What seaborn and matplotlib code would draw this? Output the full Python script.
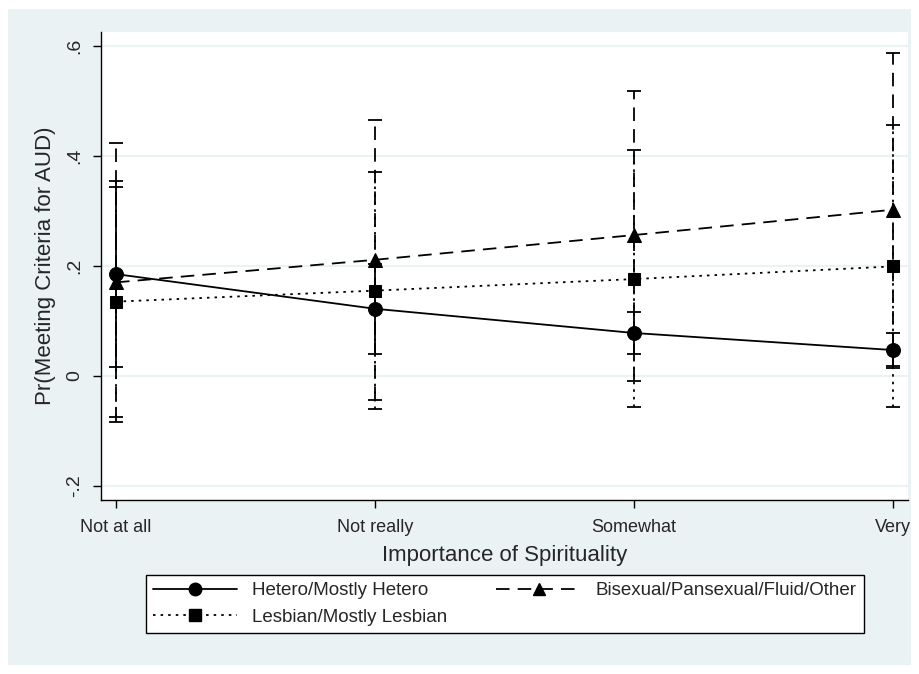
import numpy as np
import pandas as pd
import matplotlib
matplotlib.use('Agg')
import matplotlib.pyplot as plt
from matplotlib.patches import Rectangle
from matplotlib.lines import Line2D
import seaborn as sns

#1. data
categories = ['Not at all', 'Not really', 'Somewhat', 'Very']
groups = ['Hetero/Mostly Hetero', 'Bisexual/Pansexual/Fluid/Other', 'Lesbian/Mostly Lesbian']

hetero = [0.185, 0.122, 0.078, 0.047]
hetero_lo = [0.016, 0.040, 0.040, 0.018]
hetero_hi = [0.354, 0.204, 0.117, 0.078]

bisexual = [0.170, 0.211, 0.256, 0.302]
bisexual_lo = [-0.084, -0.043, -0.010, 0.015]
bisexual_hi = [0.424, 0.465, 0.517, 0.587]

lesbian = [0.135, 0.155, 0.176, 0.199]
lesbian_lo = [-0.074, -0.061, -0.057, -0.057]
lesbian_hi = [0.344, 0.371, 0.410, 0.456]

yticks = [-0.2, 0, 0.2, 0.4, 0.6]
ytick_labels = ['-.2', '0', '.2', '.4', '.6']

#2. long dataframe for seaborn
pos = np.arange(len(categories))
df = pd.DataFrame({
    'x': np.tile(pos, 3),
    'y': hetero + bisexual + lesbian,
    'lo': hetero_lo + bisexual_lo + lesbian_lo,
    'hi': hetero_hi + bisexual_hi + lesbian_hi,
    'group': np.repeat(groups, len(categories)),
})

bg = '#EAF2F3'
styles = {
    groups[0]: dict(ls='-', marker='o', ms=10),
    groups[1]: dict(ls=(0, (7.5, 4.5)), marker='^', ms=10),
    groups[2]: dict(ls=(0, (1.4, 2.8)), marker='s', ms=9),
}

sns.set_style('white')
plt.rcParams['font.family'] = ['Liberation Sans', 'DejaVu Sans']

fig = plt.figure(figsize=(9.19, 6.74), dpi=100, facecolor='white')
fig.patches.append(Rectangle((8 / 919, 9 / 674), 903 / 919, 656 / 674,
                             transform=fig.transFigure, facecolor=bg,
                             edgecolor='none', zorder=-10))
ax = fig.add_axes([101 / 919, 174 / 674, 807 / 919, 468 / 674])
ax.set_facecolor('white')

#3. confidence intervals
for g in groups:
    d = df[df['group'] == g]
    eb = ax.errorbar(d['x'], d['y'], yerr=[d['y'] - d['lo'], d['hi'] - d['y']],
                     fmt='none', ecolor='black', elinewidth=1.3, capsize=5,
                     capthick=1.3, zorder=2)
    eb[2][0].set_linestyle(styles[g]['ls'])

#4. lines and markers
sns.lineplot(data=df, x='x', y='y', style='group', style_order=groups,
             markers={g: styles[g]['marker'] for g in groups},
             dashes=False, color='black', legend=False, ax=ax,
             markersize=10, markeredgecolor='black', lw=1.3, zorder=3)
for line, g in zip(ax.lines[-3:], groups):
    line.set_linestyle(styles[g]['ls'])
    line.set_markersize(styles[g]['ms'])

#5. axes styling
ax.set_xlim(-0.058, 3.058)
ax.set_ylim(-0.2255, 0.625)
ax.set_xticks(pos)
ax.set_xticklabels(categories, fontsize=13)
ax.set_yticks(yticks)
ax.set_yticklabels(ytick_labels, fontsize=14, rotation=90, va='center')
ax.tick_params(axis='both', direction='out', length=6, width=1, color='black',
               bottom=True, left=True)
ax.tick_params(axis='x', pad=8)
ax.tick_params(axis='y', pad=7)
ax.yaxis.grid(True, color=bg, lw=1.5)
ax.set_axisbelow(True)
for s in ['top', 'right']:
    ax.spines[s].set_visible(False)
for s in ['left', 'bottom']:
    ax.spines[s].set_color('black')
    ax.spines[s].set_linewidth(1)
ax.set_xlabel('Importance of Spirituality', fontsize=16, labelpad=6)
ax.set_ylabel('Pr(Meeting Criteria for AUD)', fontsize=16, labelpad=7)

#6. legend (column-wise fill: hetero, lesbian | bisexual)
handles = [Line2D([], [], color='black', lw=1.3, ls=styles[g]['ls'],
                  marker=styles[g]['marker'], ms=styles[g]['ms'] - 1) for g in groups]
order = [0, 2, 1]
leg = fig.legend([handles[i] for i in order], [groups[i] for i in order],
                 loc='center', bbox_to_anchor=(505 / 919, 1 - 604 / 674),
                 ncol=2, fontsize=13.5, frameon=True, fancybox=False,
                 handlelength=4.5, columnspacing=2.6, handletextpad=0.8,
                 borderpad=0.4, labelspacing=0.5, borderaxespad=0,
                 edgecolor='black', facecolor='white', framealpha=1)
leg.get_frame().set_linewidth(1)

fig.savefig('out.png', dpi=100, facecolor='white')
